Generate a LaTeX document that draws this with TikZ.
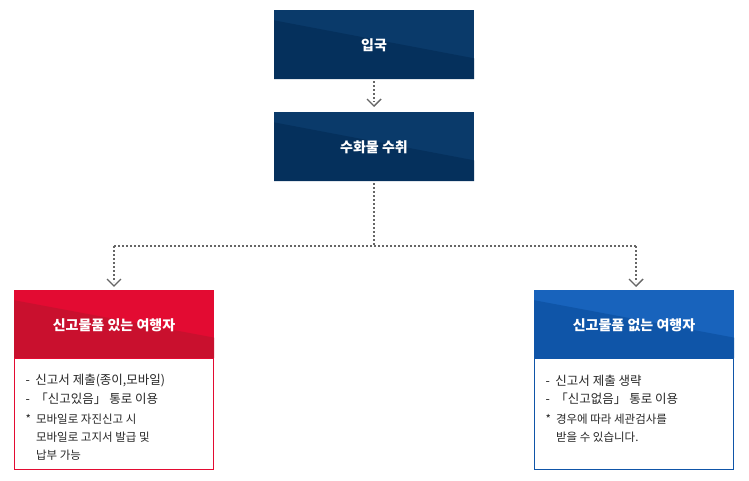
\documentclass[tikz,border=0pt]{standalone}
\usepackage{fontspec}
\newfontfamily\kr{Noto Sans CJK KR}
\usetikzlibrary{arrows.meta}
\definecolor{navyA}{HTML}{0A3A6A}
\definecolor{navyB}{HTML}{05305C}
\definecolor{redA}{HTML}{E30B32}
\definecolor{redB}{HTML}{C9102E}
\definecolor{bluA}{HTML}{1863BC}
\definecolor{bluB}{HTML}{0F55A8}
\definecolor{dotg}{HTML}{666666}
\tikzset{
 conn/.style={draw=dotg, line width=1.6pt, dash pattern=on 1.6pt off 2.4pt},
 chev/.style={draw=dotg, line width=1.4pt},
 title/.style={text=white, font=\kr\bfseries\fontsize{14}{16}\selectfont},
 body/.style={anchor=west, font=\kr\fontsize{12.5}{14}\selectfont, text=black!85},
 note/.style={anchor=north west, align=left, font=\kr\fontsize{11.5}{18}\selectfont, text=black!85}
}
\newcommand{\shadebox}[6]{% x1 y1 x2 y2 colA colB
 \fill[#5] (#1,#2) rectangle (#3,#4);
 \fill[#6] (#1,#4) -- (#3,#4) -- (#3,{#2+0.7*(#4-#2)}) -- (#1,{#2+0.15*(#4-#2)}) -- cycle;
}
\begin{document}
\begin{tikzpicture}[x=1pt,y=-1pt]
\useasboundingbox (0,0) rectangle (749,480);
\shadebox{274}{10}{474}{79}{navyA}{navyB}
\node[title] (a) at (374,45) {입국};
\shadebox{274}{112}{474}{181}{navyA}{navyB}
\node[title] (b) at (374,147) {수화물 수취};
\shadebox{14}{290}{214}{358}{redA}{redB}
\node[title] (c) at (114,325) {신고물품 있는 여행자};
\draw[redA, line width=1pt] (14.5,358) rectangle (213.5,469.5);
\shadebox{534}{290}{734}{358}{bluA}{bluB}
\node[title] (d) at (634,325) {신고물품 없는 여행자};
\draw[bluB, line width=1pt] (534.5,358) rectangle (733.5,469.5);
\node[body] (c1) at (22,381) {-\ \ 신고서 제출(종이,모바일)};
\node[body] (c2) at (22,399) {-\ \ 「신고있음」 통로 이용};
\node[note] (c3) at (22,410) {*\ \ 모바일로 자진신고 시\\\phantom{*\ \ }모바일로 고지서 발급 및\\\phantom{*\ \ }납부 가능};
\node[body] (d1) at (542,381) {-\ \ 신고서 제출 생략};
\node[body] (d2) at (542,399) {-\ \ 「신고없음」 통로 이용};
\node[note] (d3) at (542,410) {*\ \ 경우에 따라 세관검사를\\\phantom{*\ \ }받을 수 있습니다.};
\coordinate (j) at (374,246);
\coordinate (jl) at (114,246);
\coordinate (jr) at (636,246);
\draw[conn] (374,81) -- (374,102);
\draw[chev] (367,99) -- (374,106) -- (381,99);
\draw[conn] (374,183) -- (j);
\draw[conn] (jl) -- (jr);
\draw[conn] (jl) -- (114,282);
\draw[conn] (jr) -- (636,282);
\draw[chev] (107,279) -- (114,286) -- (121,279);
\draw[chev] (629,279) -- (636,286) -- (643,279);
\end{tikzpicture}
\end{document}
